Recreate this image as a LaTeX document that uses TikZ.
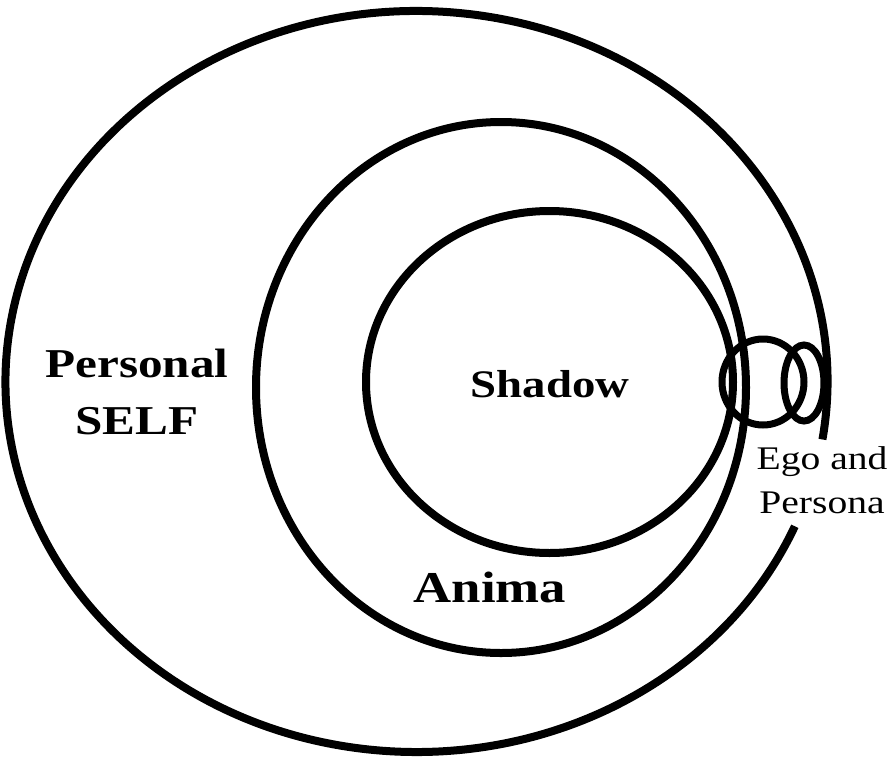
\documentclass[tikz,border=0pt]{standalone}
\usepackage{fontspec}
\setmainfont{Liberation Serif}
\usepackage{graphicx}
\usetikzlibrary{positioning, calc}
\newcommand{\wide}[1]{\scalebox{1.2}[1]{#1}}

\begin{document}
\begin{tikzpicture}[x=1pt, y=1pt, ring/.style={line width=8pt},
    lbl/.style={inner sep=0pt, anchor=base, align=center}]
  \useasboundingbox (0,0) rectangle (895,-761);
  % outer ring, open on the right
  \draw[ring] ($(416.5,-381.5)+(-9:411 and 370.5)$)
    arc[start angle=-9, end angle=337, x radius=411, y radius=370.5];
  \draw[ring] (501,-387.5) ellipse[x radius=245, y radius=265.5];
  \draw[ring] (549.5,-382) ellipse[x radius=183.5, y radius=171];
  % ego and persona
  \draw[ring, line width=7pt] (763,-382) ellipse[x radius=41, y radius=43];
  \draw[ring, line width=7pt] (804,-383) ellipse[x radius=20, y radius=38];
  \node[lbl, font=\bfseries\fontsize{41}{57}\selectfont] (self) at (137,-434)
    {\wide{Personal}\\\wide{SELF}};
  \node[lbl, font=\bfseries\fontsize{39}{47}\selectfont] (shadow) at (550,-397) {\wide{Shadow}};
  \node[lbl, font=\bfseries\fontsize{44}{52}\selectfont] (anima) at (490,-602) {\wide{Anima}};
  \node[lbl, font=\fontsize{33}{44}\selectfont] (ego) at (822,-513)
    {\wide{Ego and}\\\wide{Persona}};
\end{tikzpicture}
\end{document}
